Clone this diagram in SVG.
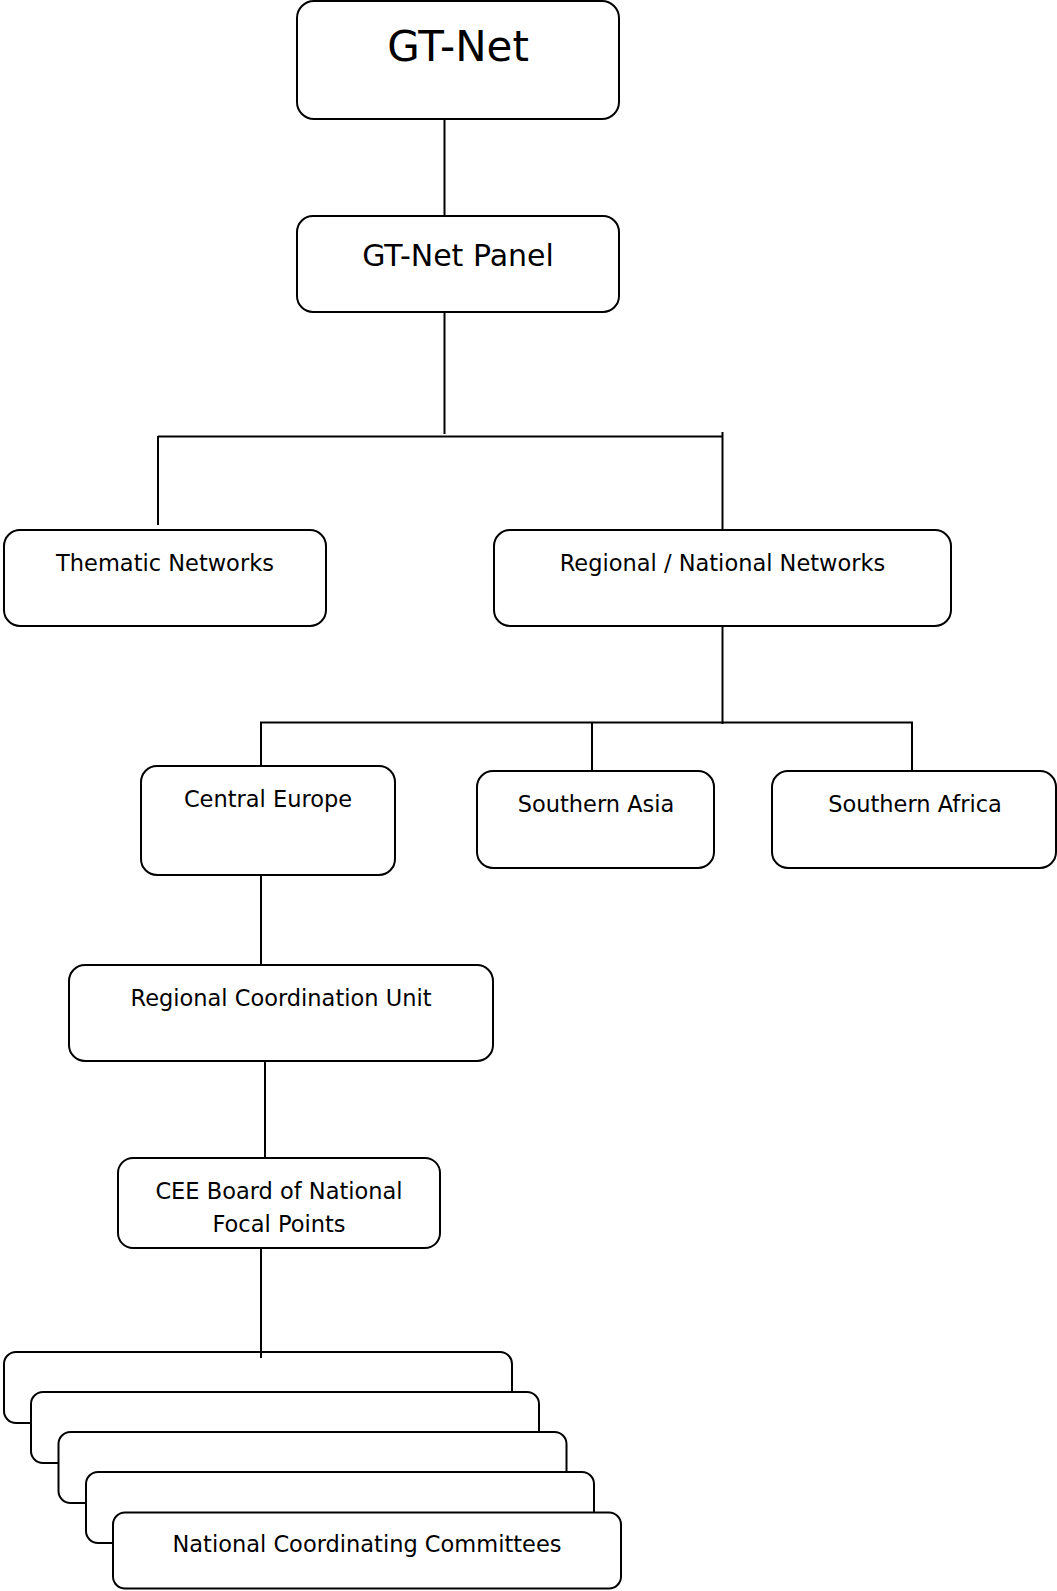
<svg xmlns="http://www.w3.org/2000/svg" width="1057" height="1591" viewBox="0 0 1057 1591">
<style>
.box{fill:#fff;stroke:#000;stroke-width:2}
.lbl{font-family:"DejaVu Sans",Verdana,sans-serif;font-size:22.5px;fill:#000;text-anchor:middle}
.con{fill:none;stroke:#000;stroke-width:2}
</style>
<rect x="0" y="0" width="1057" height="1591" fill="#fff"/>
<g id="gtnet">
<rect class="box" x="297" y="1" width="322" height="118" rx="17"/>
<text class="lbl" x="458" y="61" style="font-size:42px">GT-Net</text>
</g>
<g id="panel">
<rect class="box" x="297" y="216" width="322" height="96" rx="16"/>
<text class="lbl" x="458" y="266" style="font-size:30px">GT-Net Panel</text>
</g>
<g id="thematic">
<rect class="box" x="4" y="530" width="322" height="96" rx="16"/>
<text class="lbl" x="165" y="571">Thematic Networks</text>
</g>
<g id="regional">
<rect class="box" x="494" y="530" width="457" height="96" rx="16"/>
<text class="lbl" x="722.5" y="571">Regional / National Networks</text>
</g>
<g id="central-europe">
<rect class="box" x="141" y="766" width="254" height="109" rx="16"/>
<text class="lbl" x="268" y="807">Central Europe</text>
</g>
<g id="southern-asia">
<rect class="box" x="477" y="771" width="237" height="97" rx="16"/>
<text class="lbl" x="596" y="812">Southern Asia</text>
</g>
<g id="southern-africa">
<rect class="box" x="772" y="771" width="284" height="97" rx="16"/>
<text class="lbl" x="915" y="812">Southern Africa</text>
</g>
<g id="rcu">
<rect class="box" x="69" y="965" width="424" height="96" rx="16"/>
<text class="lbl" x="281" y="1006">Regional Coordination Unit</text>
</g>
<g id="cee-board">
<rect class="box" x="118" y="1158" width="322" height="90" rx="15"/>
<text class="lbl" x="279" y="1199">CEE Board of National</text>
<text class="lbl" x="279" y="1232">Focal Points</text>
</g>
<g id="ncc">
<rect class="box" x="4" y="1352" width="508" height="71" rx="12"/>
<rect class="box" x="31" y="1392" width="508" height="71" rx="12"/>
<rect class="box" x="58.5" y="1432" width="508" height="71" rx="12"/>
<rect class="box" x="86" y="1472" width="508" height="71" rx="12"/>
<rect class="box" x="113" y="1512.5" width="508" height="76" rx="12"/>
<text class="lbl" x="367" y="1552">National Coordinating Committees</text>
</g>
<g id="connectors">
<line class="con" x1="444.5" y1="119" x2="444.5" y2="216"/>
<line class="con" x1="444.5" y1="312" x2="444.5" y2="434"/>
<line class="con" x1="158" y1="436.5" x2="723" y2="436.5"/>
<line class="con" x1="158" y1="436" x2="158" y2="525"/>
<line class="con" x1="722.5" y1="432" x2="722.5" y2="530"/>
<line class="con" x1="722.5" y1="626" x2="722.5" y2="724"/>
<line class="con" x1="260" y1="722.5" x2="913" y2="722.5"/>
<line class="con" x1="261" y1="722" x2="261" y2="766"/>
<line class="con" x1="592" y1="722" x2="592" y2="771"/>
<line class="con" x1="912" y1="722" x2="912" y2="771"/>
<line class="con" x1="261" y1="875" x2="261" y2="965"/>
<line class="con" x1="265" y1="1061" x2="265" y2="1158"/>
<line class="con" x1="261" y1="1248" x2="261" y2="1358"/>
</g>
</svg>
